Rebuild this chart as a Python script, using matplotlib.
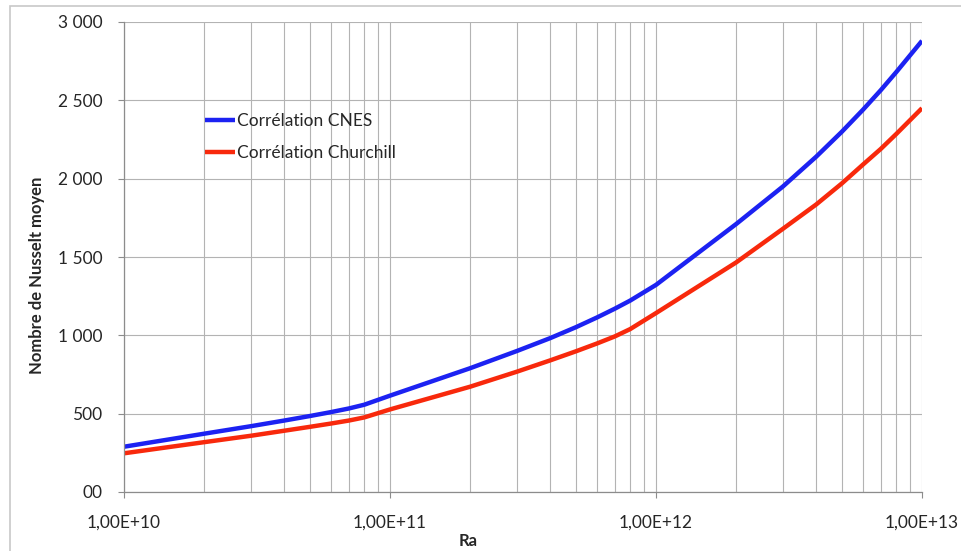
import numpy as np
import matplotlib.pyplot as plt
from matplotlib.patches import Rectangle
from matplotlib.ticker import FixedLocator, NullFormatter, LogLocator

# Nombre de Rayleigh
ra = [1e10, 2e10, 3e10, 4e10, 5e10, 6e10, 7e10, 8e10, 1e11,
      2e11, 3e11, 4e11, 5e11, 6e11, 7e11, 8e11, 1e12,
      2e12, 3e12, 4e12, 5e12, 6e12, 7e12, 8e12, 1e13]

nu_cnes = [289, 372, 420, 456, 485, 510, 533, 557, 615,
           790, 900, 982, 1052, 1114, 1170, 1222, 1322,
           1710, 1950, 2140, 2300, 2440, 2565, 2680, 2880]

nu_churchill = [247, 318, 359, 391, 416, 437, 456, 476, 527,
                672, 768, 840, 898, 948, 993, 1040, 1142,
                1465, 1680, 1835, 1970, 2090, 2190, 2285, 2450]

y_ticks = [0, 500, 1000, 1500, 2000, 2500, 3000]
y_labels = ["00", "500", "1 000", "1 500", "2 000", "2 500", "3 000"]
x_ticks = [1e10, 1e11, 1e12, 1e13]
x_labels = ["1,00E+10", "1,00E+11", "1,00E+12", "1,00E+13"]

plt.rcParams["font.family"] = ["Lato", "DejaVu Sans"]
txt = "#262626"
grid = "#b3b3b3"

fig = plt.figure(figsize=(9.62, 5.51), dpi=100)
ax = fig.add_axes([124 / 962, 1 - 492 / 551, (922 - 124) / 962, (492 - 22) / 551])

# cadre extérieur du graphique
fig.patches.append(Rectangle((10 / 962, -0.05), 1.2, 1 - 6 / 551 + 0.05,
                             transform=fig.transFigure, fill=False,
                             edgecolor="#c8c8c8", linewidth=1.2, zorder=0))

ax.plot(ra, nu_cnes, color="#1c22f2", linewidth=3.2, label="Corrélation CNES",
        solid_capstyle="butt", solid_joinstyle="round")
ax.plot(ra, nu_churchill, color="#f8290c", linewidth=3.2, label="Corrélation Churchill",
        solid_capstyle="butt", solid_joinstyle="round")

ax.set_xscale("log")
ax.set_xlim(1e10, 1e13)
ax.set_ylim(0, 3000)

ax.xaxis.set_major_locator(FixedLocator(x_ticks))
ax.set_xticklabels(x_labels)
ax.xaxis.set_minor_locator(LogLocator(base=10, subs=np.arange(2, 10)))
ax.xaxis.set_minor_formatter(NullFormatter())
ax.set_yticks(y_ticks)
ax.set_yticklabels(y_labels)

ax.grid(True, which="both", axis="x", color=grid, linewidth=0.8)
ax.grid(True, which="major", axis="y", color=grid, linewidth=0.8)
ax.set_axisbelow(True)

for s in ["top", "right"]:
    ax.spines[s].set_visible(False)
for s in ["left", "bottom"]:
    ax.spines[s].set_color("#8c8c8c")
    ax.spines[s].set_linewidth(0.9)

ax.tick_params(axis="both", which="major", direction="out", length=4.5,
               color="#8c8c8c", labelsize=12.5, labelcolor=txt)
ax.tick_params(axis="x", which="major", pad=12)
ax.tick_params(axis="y", which="major", pad=11)
ax.tick_params(axis="x", which="minor", length=0)

fig.text(468 / 962, 1 - 541 / 551, "Ra", fontsize=12, fontweight="bold",
         color=txt, ha="center", va="center")
fig.text(37 / 962, 1 - 275 / 551, "Nombre de Nusselt moyen", fontsize=12,
         fontweight="bold", color=txt, ha="center", va="center", rotation=90)

ax.legend(loc="upper left", bbox_to_anchor=((205 - 124) / 798, (492 - 113) / 470),
          frameon=False, fontsize=12.5, handlelength=1.75, handletextpad=0.1,
          labelspacing=0.95, borderpad=0, borderaxespad=0, labelcolor=txt)

fig.savefig("out.png", dpi=100)
